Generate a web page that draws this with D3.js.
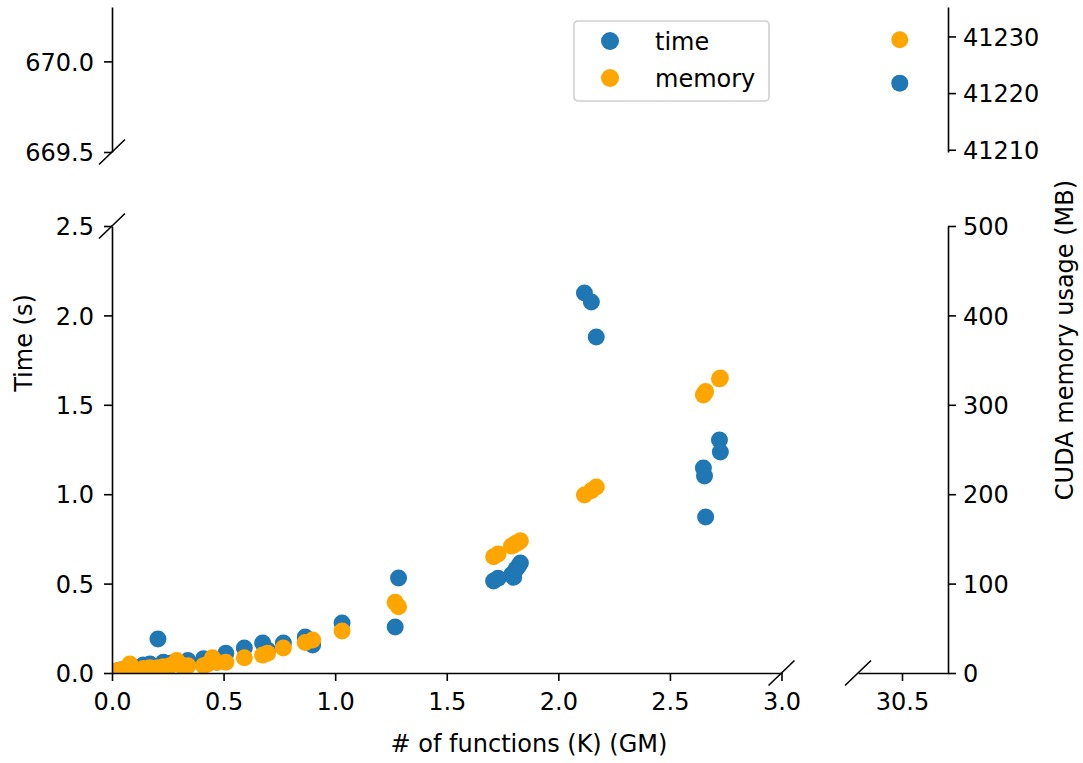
<!DOCTYPE html>
<html>
<head>
<meta charset="utf-8">
<script src="https://cdn.jsdelivr.net/npm/d3@7"></script>
<style>
  body { margin: 0; background: #fff; }
  svg { display: block; }
  text { font-family: "DejaVu Sans", sans-serif; fill: #000; }
</style>
</head>
<body>
<svg id="chart" width="1083" height="763"></svg>
<script>
// Benchmark runs: number of functions (thousands), solve time and CUDA memory
const functionsK = [0.01, 0.03, 0.05, 0.08, 0.10, 0.14, 0.17, 0.206, 0.23, 0.26,
                    0.29, 0.31, 0.34, 0.41, 0.43, 0.45, 0.47, 0.51, 0.593, 0.675,
                    0.697, 0.768, 0.866, 0.899, 1.031, 1.269, 1.284, 1.71, 1.73, 1.79,
                    1.80, 1.81, 1.82, 1.83, 2.117, 2.148, 2.170, 2.650, 2.655, 2.660,
                    2.722, 2.726, 30.49];
const timeSec =    [0.005, 0.015, 0.02, 0.025, 0.03, 0.045, 0.05, 0.19, 0.06, 0.055,
                    0.06, 0.045, 0.07, 0.08, 0.07, 0.08, 0.06, 0.11, 0.14, 0.168,
                    0.129, 0.168, 0.201, 0.157, 0.28, 0.257, 0.531, 0.515, 0.53, 0.55,
                    0.535, 0.58, 0.595, 0.615, 2.125, 2.075, 1.879, 1.147, 1.102, 0.873,
                    1.303, 1.236, 669.88];
const memoryMB =   [1, 3, 4, 10, 4, 5, 6, 6, 7, 8,
                    14, 9, 8, 8, 10, 17, 12, 12, 17, 20,
                    22, 28, 34, 37, 47, 79, 74, 130, 133, 142,
                    143, 145, 146, 148, 199, 204, 208, 311, 313, 315,
                    329, 330, 41229.4];

const seriesNames = ["time", "memory"];
const seriesColors = ["#1f77b4", "#ffa500"];

const xTicksMain = [0.0, 0.5, 1.0, 1.5, 2.0, 2.5, 3.0];
const xTicksFar = [30.5];
const timeTicksLow = [0.0, 0.5, 1.0, 1.5, 2.0, 2.5];
const timeTicksHigh = [669.5, 670.0];
const memTicksLow = [0, 100, 200, 300, 400, 500];
const memTicksHigh = [41210, 41220, 41230];

const svg = d3.select("#chart");
const FONT = 24, TICK = 8, R = 8.5;

// Scales for the broken axes
const xMain = d3.scaleLinear().domain([0, 3]).range([112, 781.5]);
const xFar = d3.scaleLinear().domain([30.5 - 44 / 223, 30.5 + 46 / 223]).range([858, 948]);
const timeLow = d3.scaleLinear().domain([0, 2.5]).range([673, 226]);
const timeHigh = d3.scaleLinear().domain([669.5, 670.3]).range([152, 7]);
const memLow = d3.scaleLinear().domain([0, 500]).range([673, 226]);
const memHigh = d3.scaleLinear().domain([41209.6, 41235.2]).range([152, 7]);

const panels = [
  { id: "bl", x: xMain, t: timeLow, m: memLow },
  { id: "br", x: xFar, t: timeLow, m: memLow },
  { id: "tl", x: xMain, t: timeHigh, m: memHigh },
  { id: "tr", x: xFar, t: timeHigh, m: memHigh }
];

const defs = svg.append("defs");
panels.forEach(p => {
  const [x0, x1] = p.x.range();
  const [y0, y1] = p.t.range();
  defs.append("clipPath").attr("id", "clip-" + p.id)
    .append("rect")
    .attr("x", Math.min(x0, x1)).attr("y", Math.min(y0, y1))
    .attr("width", Math.abs(x1 - x0)).attr("height", Math.abs(y1 - y0));
});

// a point belongs to a panel if it falls (nearly) inside both of its domains
const near = (s, v) => {
  const [a, b] = s.domain();
  const e = Math.abs(b - a) * 0.05;
  return v >= Math.min(a, b) - e && v <= Math.max(a, b) + e;
};

const idx = d3.range(functionsK.length);

// time markers first, memory markers (twin axis) on top
[["t", timeSec, 0], ["m", memoryMB, 1]].forEach(([key, vals, ci]) => {
  panels.forEach(p => {
    const ys = p[key];
    svg.append("g").attr("clip-path", `url(#clip-${p.id})`)
      .selectAll("circle")
      .data(idx.filter(i => near(p.x, functionsK[i]) && near(ys, vals[i])))
      .join("circle")
      .attr("cx", i => p.x(functionsK[i]))
      .attr("cy", i => ys(vals[i]))
      .attr("r", R)
      .attr("fill", seriesColors[ci]);
  });
});

function styleAxis(g) {
  g.selectAll("path.domain").attr("stroke", "#000").attr("stroke-width", 1.6);
  g.selectAll(".tick line").attr("stroke", "#000").attr("stroke-width", 1.6);
  g.selectAll("text").attr("font-size", FONT).attr("font-family", "DejaVu Sans, sans-serif").attr("fill", "#000");
}

const fmt1 = d3.format(".1f");
const fmt0 = d3.format("d");

// Left axes (time)
svg.append("g").attr("transform", `translate(${xMain(0)},0)`)
  .call(d3.axisLeft(timeLow).tickValues(timeTicksLow).tickFormat(fmt1).tickSize(TICK).tickSizeOuter(0).tickPadding(10))
  .call(styleAxis).call(g => g.selectAll("text").attr("dy", "0.36em"));
svg.append("g").attr("transform", `translate(${xMain(0)},0)`)
  .call(d3.axisLeft(timeHigh).tickValues(timeTicksHigh).tickFormat(fmt1).tickSize(TICK).tickSizeOuter(0).tickPadding(10))
  .call(styleAxis).call(g => g.selectAll("text").attr("dy", "0.36em"));

// Right axes (memory)
svg.append("g").attr("transform", `translate(${xFar.range()[1]},0)`)
  .call(d3.axisRight(memLow).tickValues(memTicksLow).tickFormat(fmt0).tickSize(TICK).tickSizeOuter(0).tickPadding(7))
  .call(styleAxis).call(g => g.selectAll("text").attr("dy", "0.36em"));
svg.append("g").attr("transform", `translate(${xFar.range()[1]},0)`)
  .call(d3.axisRight(memHigh).tickValues(memTicksHigh).tickFormat(fmt0).tickSize(TICK).tickSizeOuter(0).tickPadding(7))
  .call(styleAxis).call(g => g.selectAll("text").attr("dy", "0.36em"));

// Bottom axes
svg.append("g").attr("transform", `translate(0,${timeLow(0)})`)
  .call(d3.axisBottom(xMain).tickValues(xTicksMain).tickFormat(fmt1).tickSize(TICK).tickSizeOuter(0).tickPadding(12))
  .call(styleAxis);
svg.append("g").attr("transform", `translate(0,${timeLow(0)})`)
  .call(d3.axisBottom(xFar).tickValues(xTicksFar).tickFormat(fmt1).tickSize(TICK).tickSizeOuter(0).tickPadding(12))
  .call(styleAxis);

// Break marks
const breaks = [
  [xMain(0), timeHigh(669.5)],
  [xMain(0), timeLow(2.5)],
  [xMain(3), timeLow(0)],
  [xFar.range()[0], timeLow(0)]
];
svg.append("g").selectAll("line").data(breaks).join("line")
  .attr("x1", d => d[0] - 13).attr("y1", d => d[1] + 12.5)
  .attr("x2", d => d[0] + 13).attr("y2", d => d[1] - 12.5)
  .attr("stroke", "#000").attr("stroke-width", 1.6);

// Axis titles
svg.append("text").attr("x", 529).attr("y", 752).attr("text-anchor", "middle")
  .attr("font-size", FONT).text("# of functions (K) (GM)");
svg.append("text").attr("transform", "translate(32,343) rotate(-90)").attr("text-anchor", "middle")
  .attr("font-size", FONT).text("Time (s)");
svg.append("text").attr("transform", "translate(1073,340) rotate(-90)").attr("text-anchor", "middle")
  .attr("font-size", FONT).text("CUDA memory usage (MB)");

// Legend
const legend = svg.append("g").attr("transform", "translate(574,21)");
legend.append("rect").attr("width", 195).attr("height", 80).attr("rx", 4)
  .attr("fill", "#fff").attr("fill-opacity", 0.8).attr("stroke", "#d0d0d0").attr("stroke-width", 1.6);
legend.selectAll("g.item").data(seriesNames).join("g").attr("class", "item")
  .attr("transform", (d, i) => `translate(0,${20 + i * 37})`)
  .each(function (d, i) {
    const g = d3.select(this);
    g.append("circle").attr("cx", 36).attr("cy", 0).attr("r", 9).attr("fill", seriesColors[i]);
    g.append("text").attr("x", 81).attr("y", 0).attr("dy", "0.36em").attr("font-size", FONT).text(d);
  });
</script>
</body>
</html>
